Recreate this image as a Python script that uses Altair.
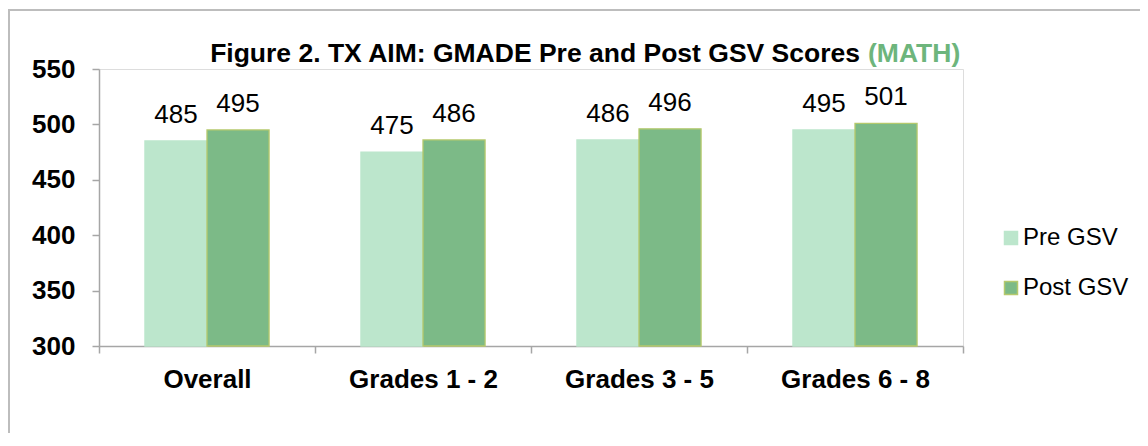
import altair as alt
import pandas as pd

categories = ["Overall", "Grades 1 - 2", "Grades 3 - 5", "Grades 6 - 8"]
pre_scores = [485, 475, 486, 495]
post_scores = [495, 486, 496, 501]
series = ["Pre GSV", "Post GSV"]
y_ticks = [300, 350, 400, 450, 500, 550]
title_main = "Figure 2. TX AIM: GMADE Pre and Post GSV Scores"
title_tag = "(MATH)"

rows = []
for c, pre, post in zip(categories, pre_scores, post_scores):
    rows.append({"category": c, "series": series[0], "score": pre})
    rows.append({"category": c, "series": series[1], "score": post})
df = pd.DataFrame(rows)
one = pd.DataFrame({"k": [0]})

FONT = "Liberation Sans"
AXIS_GRAY = "#A6A6A6"
fill_colors = ["#BCE6CC", "#7CBA87"]
stroke_colors = ["#BCE6CC", "#B5C96C"]

legend = alt.Legend(
    title=None, orient="none", legendX=900, legendY=157,
    symbolType="square", symbolSize=169, symbolStrokeWidth=1.5,
    labelFont=FONT, labelFontSize=24, labelColor="black",
    rowPadding=26, labelOffset=0,
)

x = alt.X(
    "category:N", sort=categories, title=None,
    scale=alt.Scale(paddingInner=0, paddingOuter=0),
    axis=alt.Axis(
        labelAngle=0, labelFont=FONT, labelFontSize=26, labelFontWeight="bold",
        labelColor="black", tickBand="extent", tickSize=7, labelPadding=13,
        domainColor=AXIS_GRAY, tickColor=AXIS_GRAY, domainWidth=1.5, tickWidth=1.5,
    ),
)
xo = alt.XOffset("series:N", sort=series,
                 scale=alt.Scale(domain=series, paddingInner=0, paddingOuter=0.74))
y = alt.Y(
    "score:Q", title=None,
    scale=alt.Scale(domain=[300, 550], nice=False, zero=False, clamp=True),
    axis=alt.Axis(
        values=y_ticks, grid=False, labelFont=FONT, labelFontSize=26,
        labelFontWeight="bold", labelColor="black", tickSize=7, labelPadding=17,
        domainColor=AXIS_GRAY, tickColor=AXIS_GRAY, domainWidth=1.5, tickWidth=1.5,
    ),
)
color = alt.Color("series:N", sort=series,
                  scale=alt.Scale(domain=series, range=fill_colors), legend=legend)
stroke = alt.Stroke("series:N", sort=series,
                    scale=alt.Scale(domain=series, range=stroke_colors), legend=legend)

bars = alt.Chart(df).mark_bar(strokeWidth=1.3).encode(
    x=x, xOffset=xo, y=y, y2=alt.datum(300), color=color, stroke=stroke
)
labels = alt.Chart(df).mark_text(
    dy=-18, baseline="alphabetic", font=FONT, fontSize=26, color="black"
).encode(x=x, xOffset=xo, y=y, text="score:Q")

t1 = alt.Chart(one).mark_text(
    align="right", baseline="alphabetic", font=FONT, fontSize=26.5,
    fontWeight="bold", color="black"
).encode(x=alt.value(761), y=alt.value(-7), text=alt.value(title_main))
t2 = alt.Chart(one).mark_text(
    align="left", baseline="alphabetic", font=FONT, fontSize=26.5,
    fontWeight="bold", color="#6DB57C"
).encode(x=alt.value(769), y=alt.value(-7), text=alt.value(title_tag))

border_top = alt.Chart(one).mark_rule(color="#BDBDBD", strokeWidth=2).encode(
    x=alt.value(-91), x2=alt.value(1050), y=alt.value(-59)
)
border_left = alt.Chart(one).mark_rule(color="#BDBDBD", strokeWidth=2).encode(
    x=alt.value(-90), y=alt.value(-60), y2=alt.value(400)
)

chart = alt.layer(border_top, border_left, bars, labels, t1, t2).properties(
    width=864, height=277,
    autosize=alt.AutoSizeParams(type="none"),
    padding={"left": 91, "top": 61, "right": 177, "bottom": 87},
).configure_view(stroke=None).configure(background="white")

chart.save("out.html", embed_options={"renderer": "svg", "actions": False})
